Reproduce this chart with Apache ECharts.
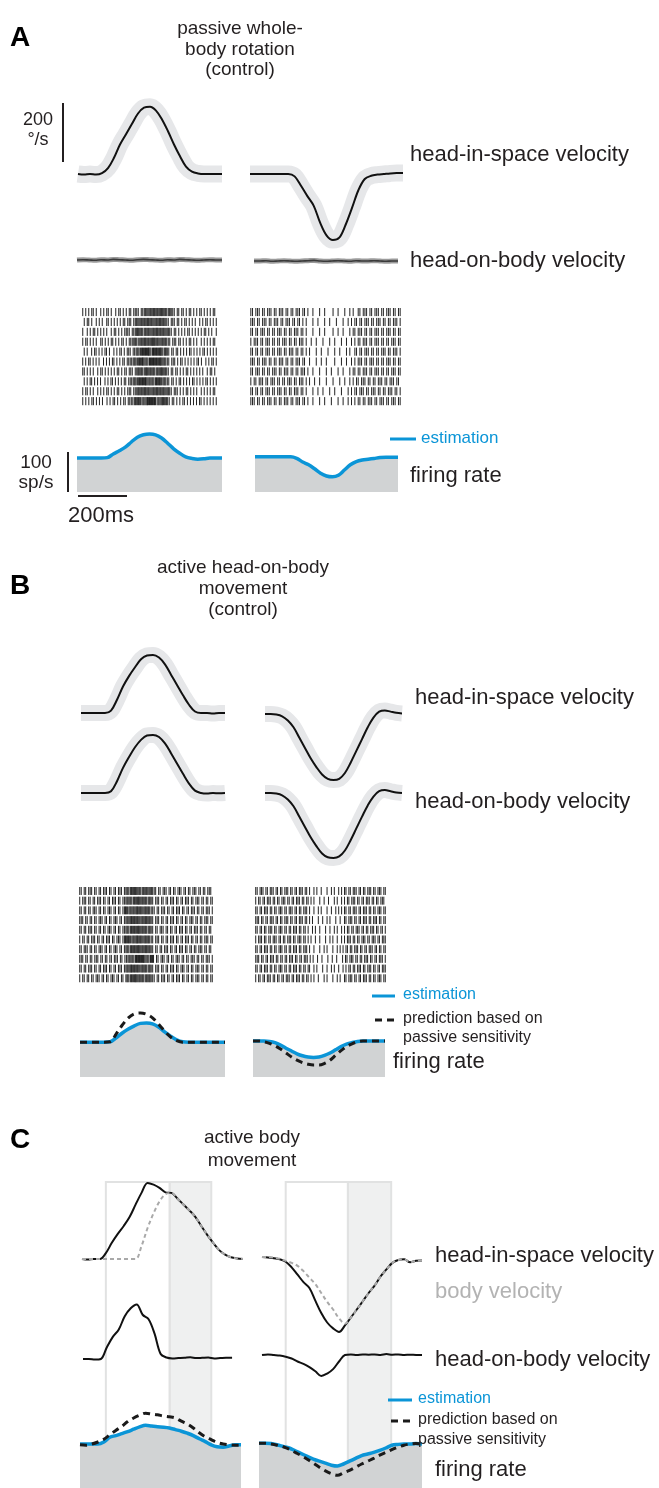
<!DOCTYPE html>
<html><head><meta charset="utf-8">
<script src="https://cdn.jsdelivr.net/npm/echarts@6/dist/echarts.min.js"></script>
<style>html,body{margin:0;padding:0;background:#fff}#c{width:659px;height:1488px}</style>
</head><body><div id="c"></div><script>
// ---------- time samples (ms) ----------
const tAB = [0,25,50,75,100,125,150,175,200,225,250,275,300,325,350,375,400,425,450,475,500,525,550,575,600];
const tC  = [0,25,50,75,100,125,150,175,200,225,250,275,300,325,350,375,400,425,450,475,500,525,550,575,600,625,650,675];

// ---------- Panel A: passive whole-body rotation (deg/s, sp/s) ----------
const aHisL = [0,-2,0,-2,3,20,55,100,135,170,205,225,228,215,185,145,100,60,25,8,2,0,0,0,0];
const aHisR = [0,0,0,0,0,0,0,-8,-40,-75,-108,-165,-208,-224,-216,-172,-115,-55,-17,-6,-2,0,2,3,3];
const aHobL = [0,1,0,-1,1,0,2,1,0,-1,1,2,1,0,-1,1,0,2,1,0,-1,0,1,0,0];
const aHobR = [0,0,1,-1,0,1,0,-1,0,1,2,0,-1,0,1,0,-1,1,0,0,1,0,-1,0,0];
const aFrL  = [85,85,85,85,85,86,95,103,112,125,137,143,145,143,135,122,108,97,88,84,82,83,85,85,85];
const aFrR  = [88,88,88,88,88,88,88,84,75,68,58,47,40,38,42,55,68,76,80,82,84,86,87,87,87];

// ---------- Panel B: active head-on-body movement ----------
const bHisL = [0,0,0,0,0,8,45,90,125,155,182,195,197,188,165,130,95,60,28,5,0,0,-2,0,0];
const bHisR = [0,0,-2,-8,-22,-45,-80,-115,-150,-180,-205,-220,-224,-220,-200,-165,-125,-85,-45,-12,8,12,8,4,2];
const bHobL = [0,0,0,0,0,6,40,85,122,155,180,195,197,190,168,135,100,65,32,8,0,-2,0,-1,0];
const bHobR = [0,0,-2,-8,-22,-45,-80,-115,-150,-180,-205,-218,-220,-215,-195,-160,-120,-80,-42,-12,6,10,6,2,0];
const bFrL  = [87,87,87,87,87,88,98,110,120,128,134,135,133,125,113,102,93,88,87,87,87,87,87,87,87];
const bPredL= [87,87,87,87,87,88,108,130,148,158,160,157,148,132,115,100,91,87,87,87,87,87,87,87,87];
const bFrR  = [90,90,90,89,86,80,72,65,58,53,50,49,50,54,60,68,76,82,86,89,90,90,90,90,90];
const bPredR= [90,90,88,84,78,70,60,50,42,36,32,30,30,34,42,54,66,76,83,88,90,90,90,90,90];

// ---------- Panel C: active body movement ----------
const cHisL = [0,-2,0,0,20,55,85,112,143,185,225,258,252,241,226,224,205,185,165,143,112,82,55,30,15,6,2,0];
const cBodyL= [0,0,0,0,0,0,0,0,0,0,45,105,155,195,220,224,205,185,165,143,112,82,55,30,15,6,2,0];
const cHobL = [0,0,-2,0,40,75,100,145,172,185,150,135,86,18,5,2,3,4,6,3,4,5,2,3,4,4];
const cHisR = [0,-2,-4,-8,-16,-35,-60,-85,-105,-148,-190,-222,-242,-254,-232,-205,-178,-150,-122,-97,-66,-42,-20,-10,-8,-18,-13,-12];
const cBodyR= [0,0,-2,-6,-13,-20,-30,-48,-70,-92,-122,-152,-178,-208,-226,-205,-178,-150,-122,-97,-66,-42,-20,-10,-8,-18,-13,-12];
const cHobR = [0,2,0,-2,-6,-12,-22,-30,-41,-55,-71,-63,-48,-22,0,2,0,2,1,2,0,3,1,2,0,1,0,0];
const cFrL  = [110,110,110,110,115,127,131,136,141,147,153,157,155,153,152,150,146,142,137,131,123,116,108,103,102,105,108,108];
const cPredL= [108,107,110,115,122,133,144,154,166,175,182,187,185,183,180,178,175,167,160,150,138,128,121,114,110,108,107,107];
const cFrR  = [112,112,111,108,104,100,93,86,79,72,67,62,57,55,60,67,74,81,85,89,94,100,107,109,110,110,111,110];
const cPredR= [112,112,110,107,103,97,89,81,72,62,52,43,36,32,38,44,52,60,67,74,82,89,96,102,107,110,111,110];
const cEpochL = [100,367,542];   // ms: white epoch start, shaded start, shaded end
const cEpochR = [100,362,545];

// ---------- spike rasters ('|' = one spike in bin, '#' = two spikes) ----------
const rasterAL = [
"|.|.|.||.|..|.|.||.|..|.||.|.|.||.||||.|||#||#|##|#|##|#||#|||.||.||.|.||.|.|.||.|.|.|.||.",
".|.||.|..|.|.|..||.|.|.|.|.||.|||.||#||#|#|##|#||#|##|#|||.|||.||.|.||.|.|.|..|.|.||.|.|.|",
"|..|.|.||.|.|.|.|..|.||.|.|.||||.|||##|#||#|#||#|##|#|#||#||.||.|.|.|.||.|.|.|.|.||.|.|..|",
"|.||.|.|.|..||.|.|.||.|.|.||.|.||||#|||#|##|#|###|#||#|#|||.|||.||.|.|.||.|.|..|.|.|.|.||.",
".|.|..|.||.|.|.||.|..|.|.||.|.|||.|||#||#|#|##||#|#|##||#||.||.||.|.|.|.||.|.|.|.||.|.|.|.|",
"|.|.||.|.|.|..|.|.|.||.|.|.||.|||||#||#|##|#||#|#|#|##|#|||.|||.|.||.|.|.|.|.||.|..|.|.||.|",
"||.|.|.|..|.||.|.|.|.|.||.|.||.|||.||#|#||##|#|#||#|##|#||.||.||.|.|.||.|.|.|.|.|..|.||.|.",
".|.|.||.|.|.|..|.|.||.|.|.|.||.||||#||#|#|##|#|#||#|#||#|||.||.|.||.|.|.|.||.|.|.|.||.|.|.|",
"|.||.|.|..|.|.|.||.|.|.||.|.|.|||.|||#|#|##|#||#|##|#|#||#||.|||.|.|.||.|.|.|..|.|.|.|.||.",
"|.|.|.||.|.|.|..|.|.||.|.|.||.|||||#|#||#|##|#|#||#|##|#||.||.|.|.||.|.|.|.|.||.|.|.|.|.|"];
const rasterAR = [
"||.|||.||.|||.||.|||.||.||.|||.||.|..|...|..|....|..|...|..|.|..||.|||.||.|||.||.|||.||.||",
"|||.||.|||.||.|||.||.|||.||.||.|.|...|..|...|..|...|...|..|.|.||.||.|||.||.|||.||.||.|||.|",
"||.||.|||.||.||.|||.||.||.|||.||.|...|...|..|....|..|..|...|.||.|||.||.||.|||.||.|||.||.||",
"|.|||.||.|||.||.||.|||.||.||.|||.|..|..|...|...|..|...|..|..|.|.||.|||.||.|||.||.||.|||.||",
"||.||.||.|||.||.|||.||.|||.||.||.|.|...|..|...|...|..|...|.|..||.||.|||.||.||.|||.||.|||.|",
"|||.||.|||.||.||.|||.||.||.|||.||..|...|..|..|....|...|..|..|.|.|||.||.|||.||.||.|||.||.||",
"||.|||.||.||.|||.||.|||.||.||.|||.|..|...|...|..|...|..|...|.||.||.|||.||.|||.||.||.|||.||",
"|.||.|||.||.|||.||.||.|||.||.|||.|.|..|..|...|...|...|..|..|.|.||.|||.||.||.|||.||.|||.||.",
"||.||.||.|||.||.|||.||.||.|||.||.|...|..|..|...|..|...|...|.|.||.|||.||.|||.||.||.|||.||.|",
"|||.||.||.|||.||.||.|||.||.|||.||.|..|...|..|...|...|..|..|.|.|.||.||.|||.||.|||.||.|||.||"];
const rasterBL = [
"||.||.|||.||.||.|||.||.||.|||.||#||#|##|#||#|#||#|||.||.|||.||.||.|||.||.||.|||.||.||.|||.",
"|.|||.||.||.|||.||.||.|||.||.|||#|#||#|##|#|#||#||.|||.||.||.|||.||.||.|||.||.|||.||.||.||",
"||.||.||.|||.||.||.|||.||.||.||#||#|#|##|#||#|#||||.||.|||.||.||.|||.||.||.|||.||.||.|||.|",
"|||.||.||.||.|||.||.||.|||.||.||#|##|#|#||#|##|#||.|||.||.||.|||.||.||.||.|||.||.||.|||.||",
"||.||.|||.||.||.||.|||.||.||.|||#||#|#|##|#|#||#||.||.|||.||.||.||.|||.||.||.|||.||.||.||.",
"|.||.||.|||.||.||.|||.||.|||.||#|#||#|##|#||#|#|||.|||.||.||.|||.||.||.|||.||.||.||.|||.||",
"||.|||.||.||.|||.||.||.|||.||.||#||#|#|##|#|##|#||.||.||.|||.||.||.|||.||.||.||.|||.||.||.",
"|||.||.||.|||.||.||.||.|||.||.|||#|#||#|#|##|#||#|.||.|||.||.||.|||.||.||.|||.||.||.|||.|",
"||.||.|||.||.||.|||.||.||.|||.||#|##|#|#||#|#||#||.|||.||.||.|||.||.|||.||.||.|||.||.||.||",
"|.||.||.||.|||.||.||.|||.||.||.|#||#|##|#|#||#|#|||.||.|||.||.||.|||.||.||.||.|||.||.||.||"];
const rasterBR = [
"||.|||.||.|||.||.||.|||.||.||.|||.||.|..|.|..|...|..|.|..|.|.||.||.|||.||.||.|||.||.|||.||",
"|.||.||.|||.||.||.|||.||.||.|||.||.||.|.|...|..|..|...|.|..|.|.||.|||.||.||.|||.||.||.|||.",
"||.||.|||.||.||.|||.||.|||.||.||.|||.|..|..|.|...|..|..|.|.|.||.||.|||.||.|||.||.||.|||.||",
"|||.||.||.|||.||.||.|||.||.||.|||.||.|.|...|..|..|.|...|..|..||.|||.||.||.|||.||.|||.||.||",
"||.||.||.|||.||.|||.||.||.|||.||.||.|..|.|..|...|..|..|.|..|.|.||.||.|||.||.||.|||.||.||.|",
"|.|||.||.||.|||.||.||.|||.||.|||.||.|.|..|..|...|..|.|..|..|.|.|||.||.||.|||.||.|||.||.|||",
"||.||.|||.||.||.|||.||.||.|||.||.|||.|..|...|..|.|...|..|.|.|.||.||.|||.||.||.|||.||.||.||",
"|||.||.||.|||.||.||.||.|||.||.||.|||.|.|..|..|...|..|..|...|.||.|||.||.||.|||.||.||.|||.|",
"||.||.|||.||.||.|||.||.||.|||.||.||.||..|.|...|..|..|.|..|..|.|.||.||.|||.||.|||.||.||.|||",
"|.||.||.|||.||.||.||.|||.||.|||.||.||.|.|..|...|.|...|..|.|..||.|||.||.||.|||.||.||.|||.||"];

// ---------- helpers ----------
const FONT = '"Liberation Sans", Arial, Helvetica, sans-serif';
const INK = '#231f20', BLUE = '#0b95d7', BAND = '#e6e7e9', FILL = '#d1d3d4';
const KV = 0.295;  // px per deg/s
const KF = 0.4;    // px per sp/s
const grids = [], xAxes = [], yAxes = [], series = [];
function addGrid(left, width, top, height, xMax, yMin, yMax, inverse) {
  const i = grids.length;
  grids.push({left, top, width, height, containLabel: false});
  xAxes.push({type: 'value', gridIndex: i, min: 0, max: xMax, show: false});
  yAxes.push({type: 'value', gridIndex: i, min: yMin, max: yMax, show: false, inverse: !!inverse});
  return i;
}
const velGrid = (left, width, base, xMax) => addGrid(left, width, base - 280 * KV, 560 * KV, xMax, -280, 280);
const frGrid = (left, width, bottom, xMax) => addGrid(left, width, bottom - 220 * KF, 220 * KF, xMax, 0, 220);
const pairs = (t, v) => v.map((y, i) => [t[i], y]);
function line(g, t, v, color, width, z, type) {
  series.push({type: 'line', xAxisIndex: g, yAxisIndex: g, data: pairs(t, v), smooth: 0.35, symbol: 'none',
    lineStyle: {color, width, type: type || 'solid', cap: 'butt', join: 'round'}, z, silent: true, animation: false});
}
function area(g, t, v) {
  series.push({type: 'line', xAxisIndex: g, yAxisIndex: g, data: pairs(t, v), smooth: 0.35, symbol: 'none',
    lineStyle: {width: 0, opacity: 0}, areaStyle: {color: FILL, opacity: 1}, z: 1, silent: true, animation: false});
}
function raster(g, rows, xMax) {
  const data = [];
  rows.forEach((s, r) => {
    for (let i = 0; i < s.length; i++) {
      if (s[i] === '|') data.push([(i + 0.5) / s.length * xMax, r]);
      else if (s[i] === '#') { data.push([(i + 0.2) / s.length * xMax, r]); data.push([(i + 0.8) / s.length * xMax, r]); }
    }
  });
  series.push({type: 'custom', xAxisIndex: g, yAxisIndex: g, data, silent: true, animation: false,
    renderItem: (p, api) => {
      const a = api.coord([api.value(0), api.value(1)]);
      const b = api.coord([api.value(0), api.value(1) + 0.82]);
      return {type: 'line', shape: {x1: a[0], y1: a[1], x2: b[0], y2: b[1]}, style: {stroke: '#222', lineWidth: 1}};
    }});
}
function epochs(g, b) {
  series.push({type: 'custom', xAxisIndex: g, yAxisIndex: g, data: [[b[1], b[2], 1], [b[0], b[1], 0]], z: 0, silent: true, animation: false,
    renderItem: (p, api) => {
      const cs = p.coordSys;
      const x0 = api.coord([api.value(0), 0])[0], x1 = api.coord([api.value(1), 0])[0];
      return {type: 'rect', shape: {x: x0, y: cs.y, width: x1 - x0, height: cs.height + 20},
        style: {fill: api.value(2) ? '#eff0f0' : '#ffffff', stroke: '#e1e2e2', lineWidth: 2}};
    }});
}

// ---------- Panel A ----------
let g;
g = velGrid(78, 144, 174, 600); line(g, tAB, aHisL, BAND, 17, 2); line(g, tAB, aHisL, '#111', 2, 3);
g = velGrid(250, 153, 174, 600); line(g, tAB, aHisR, BAND, 17, 2); line(g, tAB, aHisR, '#111', 2, 3);
g = velGrid(77, 145, 260, 600); line(g, tAB, aHobL, '#9a9a9a', 5, 2); line(g, tAB, aHobL, '#3a3a3a', 1.6, 3);
g = velGrid(254, 144, 261, 600); line(g, tAB, aHobR, '#9a9a9a', 5, 2); line(g, tAB, aHobR, '#3a3a3a', 1.6, 3);
g = addGrid(82, 135, 308, 99, 600, 0, 10, true); raster(g, rasterAL, 600);
g = addGrid(250, 151, 308, 99, 600, 0, 10, true); raster(g, rasterAR, 600);
g = frGrid(77, 145, 492, 600); area(g, tAB, aFrL); line(g, tAB, aFrL, BLUE, 3.5, 3);
g = frGrid(255, 143, 492, 600); area(g, tAB, aFrR); line(g, tAB, aFrR, BLUE, 3.5, 3);

// ---------- Panel B ----------
g = velGrid(81, 144, 713, 600); line(g, tAB, bHisL, BAND, 16, 2); line(g, tAB, bHisL, '#111', 2, 3);
g = velGrid(265, 137, 714, 600); line(g, tAB, bHisR, BAND, 16, 2); line(g, tAB, bHisR, '#111', 2, 3);
g = velGrid(81, 144, 793, 600); line(g, tAB, bHobL, BAND, 16, 2); line(g, tAB, bHobL, '#111', 2, 3);
g = velGrid(265, 137, 793, 600); line(g, tAB, bHobR, BAND, 16, 2); line(g, tAB, bHobR, '#111', 2, 3);
g = addGrid(79, 134, 887, 97, 600, 0, 10, true); raster(g, rasterBL, 600);
g = addGrid(255, 131, 887, 97, 600, 0, 10, true); raster(g, rasterBR, 600);
g = frGrid(80, 145, 1077, 600); area(g, tAB, bFrL); line(g, tAB, bFrL, BLUE, 3.5, 3); line(g, tAB, bPredL, '#1a1a1a', 3, 4, [7, 5]);
g = frGrid(253, 132, 1077, 600); area(g, tAB, bFrR); line(g, tAB, bFrR, BLUE, 3.5, 3); line(g, tAB, bPredR, '#1a1a1a', 3, 4, [7, 5]);

// ---------- Panel C ----------
g = addGrid(82, 161, 1182, 310, 675, 0, 1); epochs(g, cEpochL);
g = addGrid(262, 160, 1182, 310, 675, 0, 1); epochs(g, cEpochR);
g = velGrid(82, 161, 1259, 675); line(g, tC, cBodyL, '#a9a9a9', 2, 3, [4, 3]); line(g, tC, cHisL, '#111', 2, 2);
g = velGrid(262, 160, 1257, 675); line(g, tC, cBodyR, '#a9a9a9', 2, 3, [4, 3]); line(g, tC, cHisR, '#111', 2, 2);
g = velGrid(83, 161, 1359, 675); line(g, tC.slice(0, cHobL.length), cHobL, '#111', 2, 3);
g = velGrid(262, 160, 1355, 675); line(g, tC, cHobR, '#111', 2, 3);
g = frGrid(80, 161, 1488, 675); area(g, tC, cFrL); line(g, tC, cFrL, BLUE, 3.5, 3); line(g, tC, cPredL, '#1a1a1a', 3, 4, [7, 5]);
g = frGrid(259, 163, 1488, 675); area(g, tC, cFrR); line(g, tC, cFrR, BLUE, 3.5, 3); line(g, tC, cPredR, '#1a1a1a', 3, 4, [7, 5]);

// ---------- text & scale bars ----------
function T(x, y, text, size, o) {
  o = o || {};
  return {type: 'text', x, y, z: 10, silent: true, style: {text, fontSize: size, fontFamily: FONT, fontWeight: o.bold ? 'bold' : 'normal',
    fill: o.fill || INK, align: o.align || 'left', verticalAlign: o.va || 'middle', lineHeight: o.lh || size}};
}
function L(x1, y1, x2, y2, w, color, dash) {
  return {type: 'line', z: 10, silent: true, shape: {x1, y1, x2, y2}, style: {stroke: color || INK, lineWidth: w, lineDash: dash || null}};
}
const els = [
  T(10, 38, 'A', 28, {bold: true, fill: '#000'}),
  T(240, 19, 'passive whole-\nbody rotation\n(control)', 19, {align: 'center', va: 'top', lh: 20.5}),
  T(38, 120, '200', 18, {align: 'center'}), T(38, 140, '°/s', 18, {align: 'center'}),
  L(63, 103, 63, 162, 2),
  T(410, 155, 'head-in-space velocity', 22), T(410, 261, 'head-on-body velocity', 22),
  L(390, 439, 416, 439, 3, BLUE), T(421, 438, 'estimation', 17, {fill: BLUE}),
  T(410, 476, 'firing rate', 22),
  T(36, 463, '100', 19, {align: 'center'}), T(36, 483, 'sp/s', 19, {align: 'center'}),
  L(68, 452, 68, 492, 2), L(78, 496, 127, 496, 2),
  T(68, 516, '200ms', 22),

  T(10, 586, 'B', 28, {bold: true, fill: '#000'}),
  T(243, 557, 'active head-on-body\nmovement\n(control)', 19, {align: 'center', va: 'top', lh: 21}),
  T(415, 698, 'head-in-space velocity', 22), T(415, 802, 'head-on-body velocity', 22),
  L(372, 996, 395, 996, 3, BLUE), T(403, 995, 'estimation', 16, {fill: BLUE}),
  L(375, 1020, 395, 1020, 3, '#1a1a1a', [7, 5]), T(403, 1019, 'prediction based on', 16), T(403, 1038, 'passive sensitivity', 16),
  T(393, 1062, 'firing rate', 22),

  T(10, 1140, 'C', 28, {bold: true, fill: '#000'}),
  T(252, 1126, 'active body\nmovement', 19, {align: 'center', va: 'top', lh: 23}),
  T(435, 1256, 'head-in-space velocity', 22), T(435, 1292, 'body velocity', 22, {fill: '#b3b3b3'}),
  T(435, 1360, 'head-on-body velocity', 22),
  L(388, 1400, 412, 1400, 3, BLUE), T(418, 1399, 'estimation', 16, {fill: BLUE}),
  L(391, 1421, 411, 1421, 3, '#1a1a1a', [7, 5]), T(418, 1420, 'prediction based on', 16), T(418, 1440, 'passive sensitivity', 16),
  T(435, 1470, 'firing rate', 22)
];

const chart = echarts.init(document.getElementById('c'), null, {renderer: 'canvas'});
chart.setOption({
  animation: false, backgroundColor: '#fff',
  grid: grids, xAxis: xAxes, yAxis: yAxes, series,
  graphic: {elements: els}
});
</script></body></html>
